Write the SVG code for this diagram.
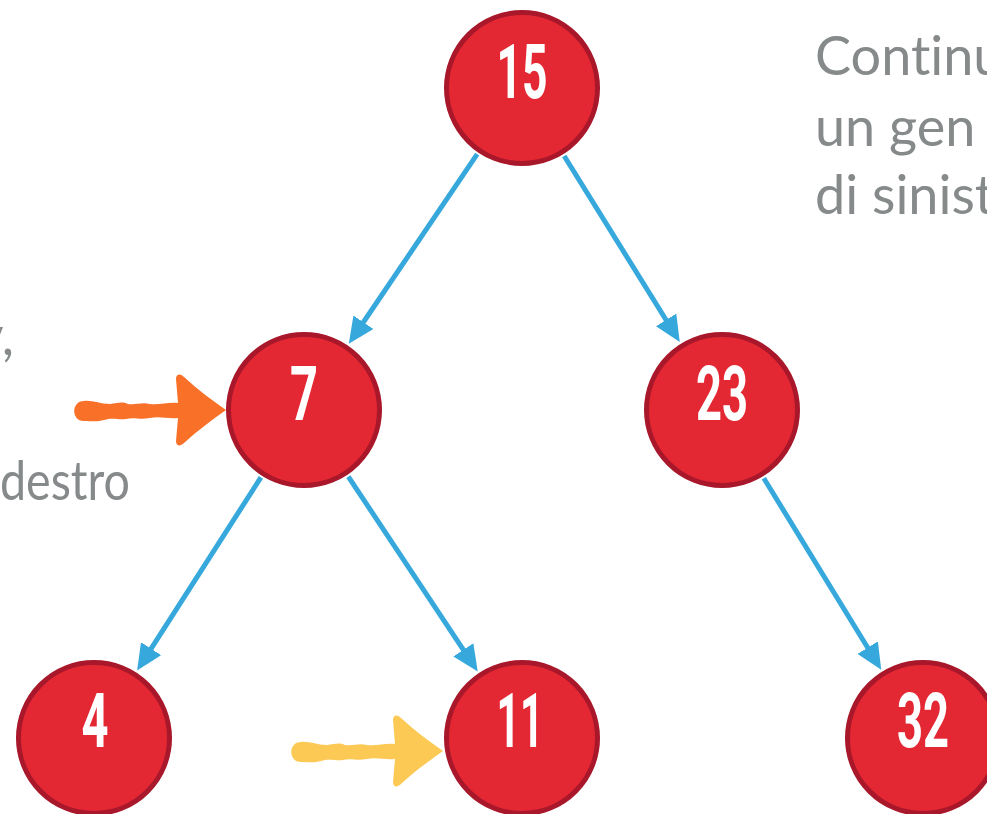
<svg xmlns="http://www.w3.org/2000/svg" xmlns:xlink="http://www.w3.org/1999/xlink" width="987" height="814" viewBox="0 0 987 814">
<defs>
<style>
.node circle{fill:#e32833;stroke:#a8172a;stroke-width:5}
.node text{fill:#ffffff;font-family:Roboto,"DejaVu Sans Condensed",sans-serif;font-weight:700;font-size:76px;text-anchor:middle}
.edge{stroke:#36a8dc;stroke-width:5;fill:none;marker-end:url(#ah)}
.note{fill:#868a8a;font-family:Lato,"Noto Sans",sans-serif;font-size:54px;font-variant-ligatures:none}
</style>
<marker id="ah" viewBox="0 0 26 24" refX="16" refY="12" markerWidth="26" markerHeight="24" markerUnits="userSpaceOnUse" orient="auto">
<path d="M0,0 L26,12 L0,24 Z" fill="#36a8dc"/>
</marker>
<path id="brush" d="M84,401 C92,400 100,404 110,404 C118,403 122,401 128,404 C136,405 142,402 150,404 C160,405 168,402 178,403 L176,379 C176,374 180,373 184,377 C198,390 212,400 226,410 C212,420 198,430 184,443 C180,447 176,446 176,441 L178,418 C168,419 160,416 150,418 C140,420 134,417 126,419 C118,420 112,417 104,420 C97,422 92,421 84,421 C71,421 71,401 84,401 Z"/>
</defs>
<rect width="987" height="814" fill="#ffffff"/>

<g id="notes">
<text class="note" x="815" y="75">Continu</text>
<text class="note" x="815" y="146">un gen</text>
<text class="note" x="815" y="214">di sinist</text>
<text class="note" x="14" y="355" text-anchor="end">v,</text>
<text class="note" x="0" y="500" textLength="130" lengthAdjust="spacingAndGlyphs">destro</text>
</g>

<g id="connectors">
<line class="edge" x1="477.2" y1="154.2" x2="354.4" y2="335.5"/>
<line class="edge" x1="564.2" y1="156.0" x2="674.5" y2="333.5"/>
<line class="edge" x1="260.9" y1="477.4" x2="142.5" y2="662.2"/>
<line class="edge" x1="348.3" y1="476.6" x2="472.2" y2="663.1"/>
<line class="edge" x1="763.8" y1="478.2" x2="876.0" y2="661.3"/>
</g>

<g id="node-15" class="node"><circle cx="522" cy="88" r="75.5"/><text x="522" y="98" textLength="51" lengthAdjust="spacingAndGlyphs">15</text></g>
<g id="node-7" class="node"><circle cx="304" cy="410" r="75.5"/><text x="304" y="420" textLength="28" lengthAdjust="spacingAndGlyphs">7</text></g>
<g id="node-23" class="node"><circle cx="722" cy="410" r="75.5"/><text x="722" y="420" textLength="52" lengthAdjust="spacingAndGlyphs">23</text></g>
<g id="node-4" class="node"><circle cx="94" cy="738" r="75.5"/><text x="95" y="747" textLength="27" lengthAdjust="spacingAndGlyphs">4</text></g>
<g id="node-11" class="node"><circle cx="522" cy="738" r="75.5"/><text x="520" y="747" textLength="47" lengthAdjust="spacingAndGlyphs">11</text></g>
<g id="node-32" class="node"><circle cx="923" cy="738" r="75.5"/><text x="923" y="747" textLength="52" lengthAdjust="spacingAndGlyphs">32</text></g>

<g id="pointers">
<use xlink:href="#brush" fill="#f97028"/>
<use xlink:href="#brush" fill="#fdc955" transform="translate(217,341)"/>
</g>
</svg>
